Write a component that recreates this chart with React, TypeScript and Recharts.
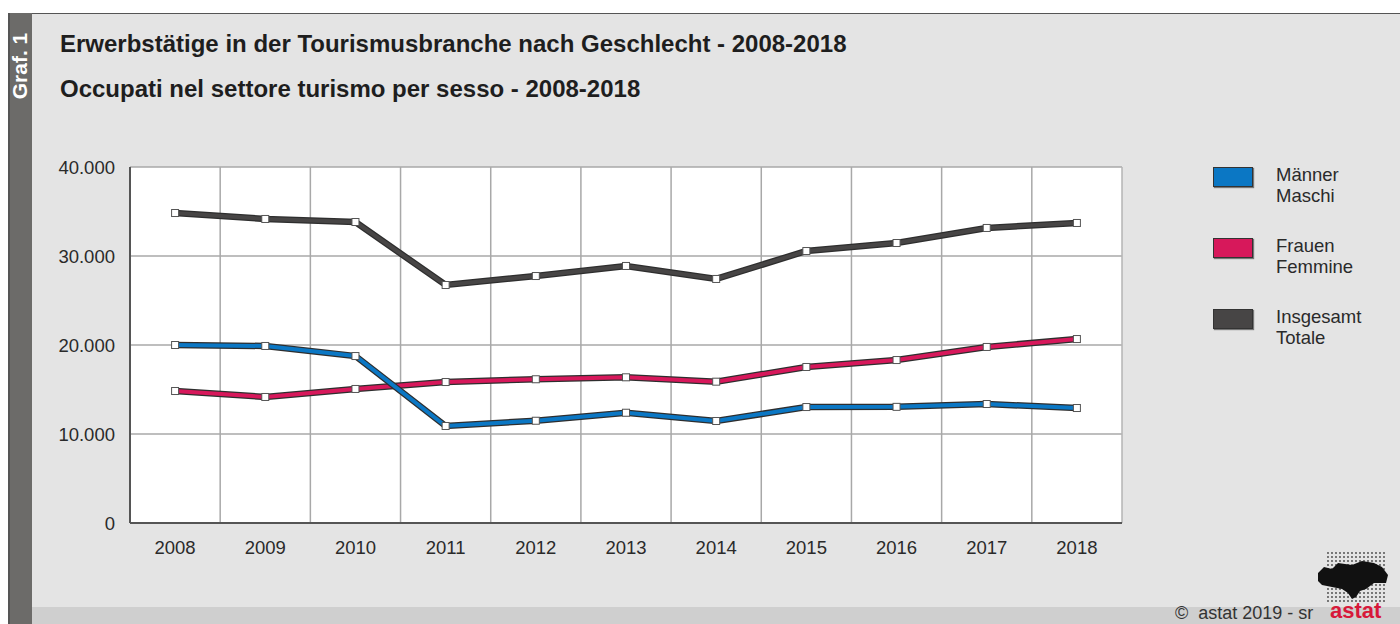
import {
  CartesianGrid,
  Line,
  LineChart,
  ReferenceLine,
  XAxis,
  YAxis,
} from 'recharts'

const years = [2008, 2009, 2010, 2011, 2012, 2013, 2014, 2015, 2016, 2017, 2018]
const maenner = [20000, 19890, 18760, 10900, 11490, 12390, 11460, 13030, 13050, 13370, 12920]
const frauen = [14830, 14160, 15060, 15840, 16150, 16370, 15880, 17530, 18310, 19780, 20670]
const insgesamt = [34830, 34160, 33820, 26740, 27750, 28880, 27420, 30560, 31460, 33150, 33710]
const yTicks = [0, 10000, 20000, 30000, 40000]

const SERIES = [
  { key: 'insgesamt', color: '#474545', de: 'Insgesamt', it: 'Totale' },
  { key: 'frauen', color: '#d7185b', de: 'Frauen', it: 'Femmine' },
  { key: 'maenner', color: '#0b77c4', de: 'Männer', it: 'Maschi' },
]
const LEGEND_ORDER = ['maenner', 'frauen', 'insgesamt']

const data = years.map((year, i) => ({
  year,
  maenner: maenner[i],
  frauen: frauen[i],
  insgesamt: insgesamt[i],
}))

// gridlines sit between the years
const boundaries = years.slice(0, -1).map(y => y + 0.5)

const FONT = '"Liberation Sans", Arial, sans-serif'

function fmt(v: number): string {
  return String(v).replace(/\B(?=(\d{3})+(?!\d))/g, '.')
}

function SquareDot(props: any) {
  const { cx, cy } = props
  if (cx == null || cy == null) return null
  return (
    <rect x={cx - 3.5} y={cy - 3.5} width={7} height={7} fill="#fff" stroke="#555" strokeWidth={1} />
  )
}

function Logo() {
  const dots = []
  for (let r = 0; r < 13; r++) {
    for (let c = 0; c < 15; c++) {
      dots.push(<circle key={`${r}-${c}`} cx={c * 4 + 12} cy={r * 4 + 2} r={0.9} fill="#444" />)
    }
  }
  return (
    <svg width={76} height={56} style={{ position: 'absolute', left: 1316, top: 551 }}>
      {dots}
      <path
        d="M2 22 L8 16 L16 18 L22 12 L36 14 L46 10 L58 12 L66 16 L72 24 L70 32 L58 32 L50 38 L44 40 L40 46 L36 48 L32 42 L26 38 L16 36 L6 34 L2 30 Z"
        fill="#111"
      />
    </svg>
  )
}

export default function App() {
  return (
    <div style={{ position: 'absolute', left: 0, top: 0, width: 1400, height: 624, background: '#fff', overflow: 'hidden', fontFamily: FONT }}>
      <div style={{ position: 'absolute', left: 8, top: 13, right: 0, bottom: 0, background: '#e4e4e4', borderTop: '1px solid #555' }} />
      <div style={{ position: 'absolute', left: 32, top: 607, right: 0, bottom: 0, background: '#cfcfcf' }} />
      <div style={{ position: 'absolute', left: 8, top: 13, width: 24, bottom: 0, background: '#6c6b69', borderLeft: '2px solid #555', boxSizing: 'border-box' }} />
      <div
        style={{
          position: 'absolute', left: 20, top: 66, transform: 'translate(-50%, -50%) rotate(-90deg)',
          color: '#fff', fontWeight: 'bold', fontSize: 21, whiteSpace: 'nowrap', lineHeight: '24px',
        }}
      >
        Graf. 1
      </div>

      <div style={{ position: 'absolute', left: 60, top: 30, fontSize: 24, lineHeight: '28px', fontWeight: 'bold', color: '#1e1e1e', whiteSpace: 'nowrap' }}>
        Erwerbstätige in der Tourismusbranche nach Geschlecht - 2008-2018
      </div>
      <div style={{ position: 'absolute', left: 60, top: 75, fontSize: 24, lineHeight: '28px', fontWeight: 'bold', color: '#1e1e1e', whiteSpace: 'nowrap' }}>
        Occupati nel settore turismo per sesso - 2008-2018
      </div>

      <div style={{ position: 'absolute', left: 0, top: 0 }}>
        <LineChart
          width={1400}
          height={624}
          data={data}
          margin={{ top: 167, right: 278, left: 50, bottom: 71 }}
        >
          <CartesianGrid vertical={false} fill="#fff" stroke="#a8a8a8" strokeWidth={1.5} />
          {boundaries.map(b => (
            <ReferenceLine key={b} x={b} stroke="#a8a8a8" strokeWidth={1.5} />
          ))}
          <ReferenceLine x={2018.5} stroke="#b4b4b4" strokeWidth={1.5} />
          <XAxis
            dataKey="year"
            type="number"
            domain={[2007.5, 2018.5]}
            ticks={years}
            allowDataOverflow
            height={30}
            tickSize={0}
            tickMargin={18}
            axisLine={{ stroke: '#555', strokeWidth: 2 }}
            tick={{ fontSize: 18.5, fill: '#2a2a2a', fontFamily: FONT }}
          />
          <YAxis
            domain={[0, 40000]}
            ticks={yTicks}
            width={80}
            tickSize={0}
            tickMargin={15}
            tickFormatter={fmt}
            axisLine={{ stroke: '#555', strokeWidth: 2 }}
            tick={{ fontSize: 18.5, fill: '#2a2a2a', fontFamily: FONT }}
          />
          {SERIES.flatMap(s => [
            <Line
              key={`${s.key}-outline`}
              type="linear"
              dataKey={s.key}
              stroke="#2e2e2e"
              strokeWidth={6.5}
              dot={false}
              activeDot={false}
              legendType="none"
              isAnimationActive={false}
            />,
            <Line
              key={s.key}
              type="linear"
              dataKey={s.key}
              stroke={s.color}
              strokeWidth={4}
              dot={<SquareDot />}
              activeDot={false}
              isAnimationActive={false}
            />,
          ])}
        </LineChart>
      </div>

      {LEGEND_ORDER.map((k, i) => {
        const s = SERIES.find(x => x.key === k)!
        return (
          <div key={k} style={{ position: 'absolute', left: 1213, top: 166 + i * 71 }}>
            <div
              style={{
                position: 'absolute', left: 0, top: 1, width: 40, height: 20, background: s.color,
                border: '1px solid #333', boxSizing: 'border-box', boxShadow: '1px 1px 1px #777',
              }}
            />
            <div style={{ position: 'absolute', left: 63, top: -2, fontSize: 18.5, lineHeight: '21px', color: '#2a2a2a', whiteSpace: 'nowrap' }}>
              {s.de}
              <br />
              {s.it}
            </div>
          </div>
        )
      })}

      <Logo />
      <div style={{ position: 'absolute', left: 1175, top: 603, fontSize: 18, lineHeight: '21px', color: '#333', whiteSpace: 'nowrap' }}>
        ©&nbsp; astat 2019 - sr
      </div>
      <div style={{ position: 'absolute', left: 1330, top: 599, fontSize: 22, lineHeight: '24px', fontWeight: 'bold', color: '#d7183a' }}>
        astat
      </div>
    </div>
  )
}
